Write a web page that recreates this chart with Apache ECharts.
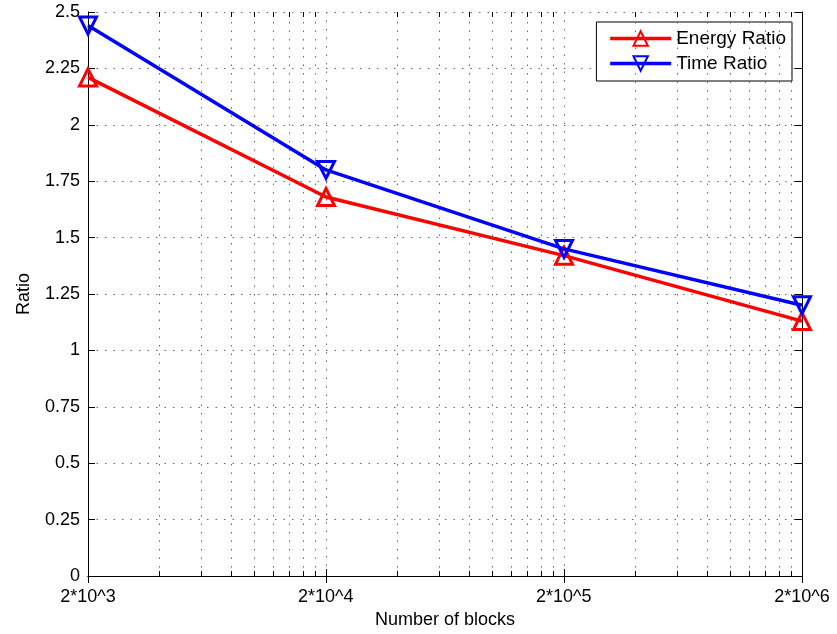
<!DOCTYPE html>
<html><head><meta charset="utf-8">
<script src="https://cdn.jsdelivr.net/npm/echarts@6/dist/echarts.min.js"></script>
<style>html,body{margin:0;padding:0;background:#fff}#c{width:837px;height:634px}</style>
</head><body><div id="c"></div>
<script>
const blocks = [2000, 20000, 200000, 2000000];
const xTickLabels = ['2*10^3', '2*10^4', '2*10^5', '2*10^6'];
const energyRatio = [2.21, 1.68, 1.42, 1.13];
const timeRatio = [2.44, 1.80, 1.45, 1.20];
const yTicks = ['0','0.25','0.5','0.75','1','1.25','1.5','1.75','2','2.25','2.5'];

const font = 'Liberation Sans, Arial, Helvetica, sans-serif';
const minorX = [];
for (let d = 0; d < 3; d++) for (let k = 2; k <= 9; k++) minorX.push(blocks[d] * k);

const gridDots = {color: '#666', width: 1, type: [1.5, 7]};
const mlData = [];
minorX.forEach(x => mlData.push({xAxis: x, lineStyle: gridDots}));
minorX.forEach(x => {
  mlData.push([{coord: [x, 0], lineStyle: {color: '#000', width: 1, type: 'solid'}}, {coord: [x, 0.022]}]);
  mlData.push([{coord: [x, 2.478], lineStyle: {color: '#000', width: 1, type: 'solid'}}, {coord: [x, 2.5]}]);
});

function lbl(v) {
  const e = Math.log10(v / blocks[0]);
  const i = Math.round(e);
  return (i >= 0 && i < xTickLabels.length && Math.abs(e - i) < 0.02) ? xTickLabels[i] : '';
}

const chart = echarts.init(document.getElementById('c'), null, {renderer: 'canvas'});
const xCommon = {
  type: 'log', logBase: 10, min: blocks[0], max: blocks[3], interval: 1,
  axisLine: {show: true, lineStyle: {color: '#000', width: 1}},
  axisTick: {show: true, inside: true, length: 7, lineStyle: {color: '#000'}},
  minorTick: {show: false}, splitLine: {show: false}
};
chart.setOption({
  animation: false,
  backgroundColor: '#fff',
  grid: {left: 88, right: 35, top: 12, bottom: 54, containLabel: false},
  legend: {
    right: 45, top: 22, orient: 'vertical',
    backgroundColor: '#fff', borderColor: '#000', borderWidth: 1,
    padding: [7, 6, 8, 12], itemGap: 6, itemWidth: 61, itemHeight: 18,
    lineStyle: {width: 3.5},
    textStyle: {fontFamily: font, fontSize: 19, color: '#000'},
    data: ['Energy Ratio', 'Time Ratio']
  },
  xAxis: [
    Object.assign({}, xCommon, {
      position: 'bottom', name: 'Number of blocks', nameLocation: 'middle', nameGap: 35,
      nameTextStyle: {fontFamily: font, fontSize: 18, color: '#000'},
      axisLabel: {show: true, fontFamily: font, fontSize: 18, color: '#000', margin: 12, formatter: lbl, showMinLabel: true, showMaxLabel: true, hideOverlap: false},
      splitLine: {show: true, lineStyle: gridDots}
    }),
    Object.assign({}, xCommon, {position: 'top', axisLabel: {show: false}})
  ],
  yAxis: [
    {
      type: 'value', min: 0, max: 2.5, interval: 0.25, position: 'left',
      name: 'Ratio', nameLocation: 'middle', nameGap: 55, nameRotate: 90,
      nameTextStyle: {fontFamily: font, fontSize: 18, color: '#000'},
      axisLine: {show: true, lineStyle: {color: '#000', width: 1}},
      axisTick: {show: true, inside: true, length: 7, lineStyle: {color: '#000'}},
      axisLabel: {fontFamily: font, fontSize: 18, color: '#000', margin: 8, formatter: v => yTicks[Math.round(v / 0.25)]},
      splitLine: {show: true, lineStyle: gridDots}
    },
    {
      type: 'value', min: 0, max: 2.5, interval: 0.25, position: 'right',
      axisLine: {show: true, lineStyle: {color: '#000', width: 1}},
      axisTick: {show: true, inside: true, length: 7, lineStyle: {color: '#000'}},
      axisLabel: {show: false}, splitLine: {show: false}
    }
  ],
  series: [
    {
      name: 'Grid', type: 'line', data: [], silent: true,
      markLine: {silent: true, symbol: 'none', label: {show: false}, animation: false, data: mlData}
    },
    {
      name: 'Energy Ratio', type: 'line', z: 5,
      data: blocks.map((b, i) => [b, energyRatio[i]]),
      lineStyle: {color: '#ff0000', width: 3.5},
      symbol: 'triangle', symbolSize: 17,
      itemStyle: {color: 'rgba(255,255,255,0)', borderColor: '#ff0000', borderWidth: 3},
      color: '#ff0000'
    },
    {
      name: 'Time Ratio', type: 'line', z: 6,
      data: blocks.map((b, i) => [b, timeRatio[i]]),
      lineStyle: {color: '#0000ff', width: 3.5},
      symbol: 'triangle', symbolRotate: 180, symbolSize: 17,
      itemStyle: {color: 'rgba(255,255,255,0)', borderColor: '#0000ff', borderWidth: 3},
      color: '#0000ff'
    }
  ]
});
</script></body></html>
